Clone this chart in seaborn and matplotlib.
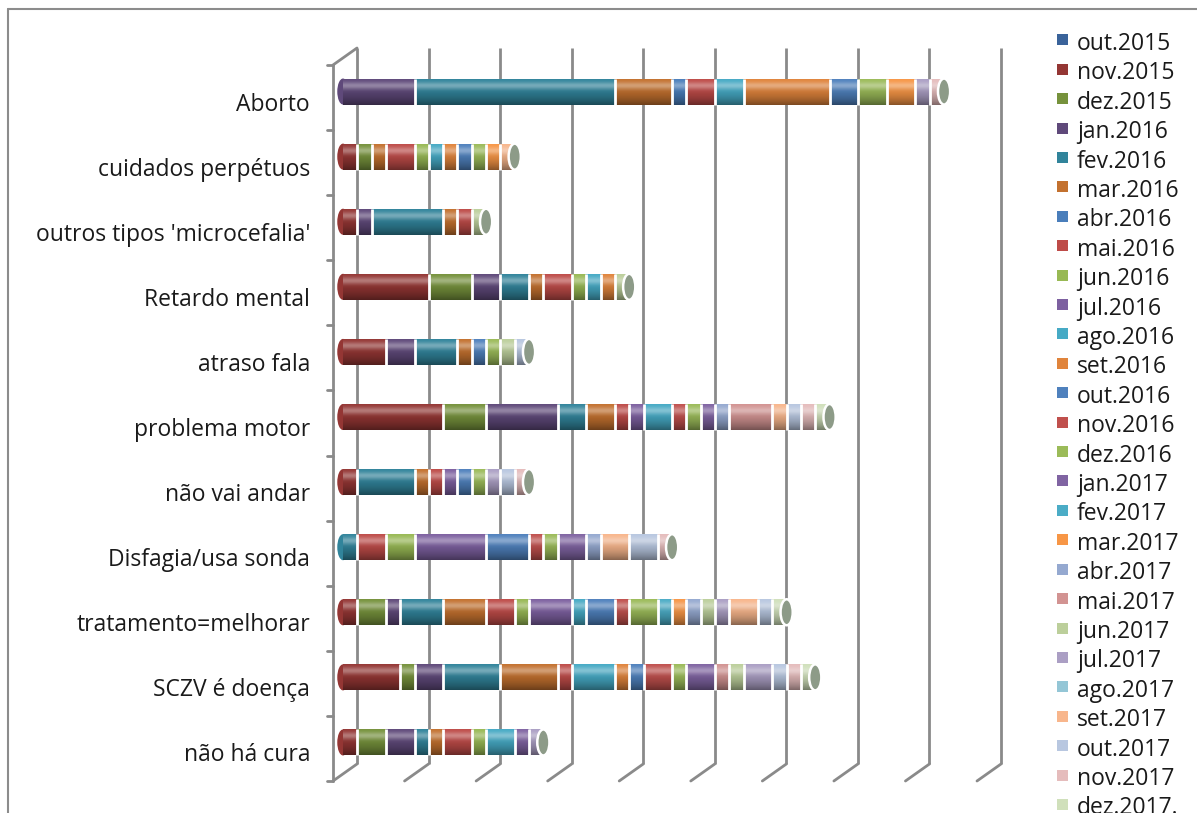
import numpy as np
import pandas as pd
import matplotlib.pyplot as plt
import matplotlib.transforms as mtransforms
from matplotlib.patches import Ellipse, Rectangle
from matplotlib.lines import Line2D
import seaborn as sns

categories = ['Aborto', 'cuidados perpétuos', "outros tipos 'microcefalia'", 'Retardo mental',
              'atraso fala', 'problema motor', 'não vai andar', 'Disfagia/usa sonda',
              'tratamento=melhorar', 'SCZV é doença', 'não há cura']
months = ['out.2015', 'nov.2015', 'dez.2015',
          'jan.2016', 'fev.2016', 'mar.2016', 'abr.2016', 'mai.2016', 'jun.2016',
          'jul.2016', 'ago.2016', 'set.2016', 'out.2016', 'nov.2016', 'dez.2016',
          'jan.2017', 'fev.2017', 'mar.2017', 'abr.2017', 'mai.2017', 'jun.2017',
          'jul.2017', 'ago.2017', 'set.2017', 'out.2017', 'nov.2017', 'dez.2017.']
colors = ['#3a639a', '#943634', '#76923c',
          '#5f497a', '#31849b', '#c3712f', '#4a7ebb', '#be4b48', '#98b954',
          '#7d60a0', '#46aac5', '#e0843c', '#4f81bd', '#c0504d', '#9bbb59',
          '#8064a2', '#4bacc6', '#f79646', '#95a9d0', '#d29392', '#bccf9b',
          '#ab9fc4', '#94c6d6', '#f8b68c', '#b8c7e0', '#e5bcbc', '#d0e0bb']

# values per month (out.2015 ... dez.2017), one list per category
aborto     = [0, 0, 0, 5, 14, 4, 1, 2, 0, 0, 2, 6, 2, 0, 2, 0, 0, 2, 0, 0, 0, 1, 0, 0, 0, 1, 0]
cuidados   = [0, 1, 1, 0, 0, 1, 0, 2, 1, 0, 1, 1, 1, 0, 1, 0, 0, 1, 0, 0, 0, 0, 0, 1, 0, 0, 0]
outros     = [0, 1, 0, 1, 5, 1, 0, 1, 0, 0, 0, 0, 0, 0, 0, 0, 0, 0, 0, 0, 1, 0, 0, 0, 0, 0, 0]
retardo    = [0, 6, 3, 2, 2, 1, 0, 2, 1, 0, 1, 1, 0, 0, 0, 0, 0, 0, 0, 0, 1, 0, 0, 0, 0, 0, 0]
atraso     = [0, 3, 0, 2, 3, 1, 0, 0, 0, 0, 0, 0, 1, 0, 1, 0, 0, 0, 0, 0, 1, 0, 0, 0, 1, 0, 0]
motor      = [0, 7, 3, 5, 2, 2, 0, 1, 0, 1, 2, 0, 0, 1, 1, 1, 0, 0, 1, 3, 0, 0, 0, 1, 1, 1, 1]
nao_andar  = [0, 1, 0, 0, 4, 1, 0, 1, 0, 1, 0, 0, 1, 0, 1, 0, 0, 0, 0, 0, 0, 1, 0, 0, 1, 1, 0]
disfagia   = [0, 0, 0, 0, 1, 0, 0, 2, 2, 5, 0, 0, 3, 1, 1, 2, 0, 0, 1, 0, 0, 0, 0, 2, 2, 1, 0]
tratamento = [0, 1, 2, 1, 3, 3, 0, 2, 1, 3, 1, 0, 2, 1, 2, 0, 1, 1, 1, 0, 1, 1, 0, 2, 1, 0, 1]
sczv       = [0, 4, 1, 2, 4, 4, 0, 1, 0, 0, 3, 1, 1, 2, 1, 2, 0, 0, 0, 1, 1, 2, 0, 0, 1, 1, 1]
nao_cura   = [0, 1, 2, 2, 1, 1, 0, 2, 1, 0, 2, 0, 0, 0, 0, 1, 0, 0, 0, 0, 0, 1, 0, 0, 0, 0, 0]

df = pd.DataFrame([aborto, cuidados, outros, retardo, atraso, motor, nao_andar,
                   disfagia, tratamento, sczv, nao_cura], index=categories, columns=months)
cum = df.cumsum(axis=1)
totals = cum[months[-1]].values

sns.set_theme(style='white')
plt.rcParams['font.family'] = ['Open Sans', 'DejaVu Sans']

W, H = 1197, 813
fig = plt.figure(figsize=(W / 100, H / 100), dpi=100)
# back wall of the pseudo-3d plot, in pixels (left, top, right, bottom)
wl, wt, wr, wb = 357, 48, 1001, 764
ax = fig.add_axes([wl / W, 1 - wb / H, (wr - wl) / W, (wb - wt) / H])

bar_off = ax.transData + mtransforms.ScaledTranslation(-0.14, -0.11, fig.dpi_scale_trans)
front_off = mtransforms.ScaledTranslation(-0.24, -0.17, fig.dpi_scale_trans)

# stacked bars: draw cumulative sums from last month to first
for m, c in zip(months[::-1], colors[::-1]):
    if df[m].sum() == 0:
        continue
    sns.barplot(x=cum[m].values, y=categories, color=c, saturation=1, width=0.4,
                orient='h', errorbar=None, linewidth=0, ax=ax)

for p in ax.patches:
    p.set_transform(bar_off)
    p.set_clip_on(False)
    p.set_zorder(2)

ax.set_xlim(0, 45)
ax.set_ylim(10.5, -0.5)
ax.axis('off')

# cylinder shading
n = 64
t = np.linspace(0, 1, n)
light = np.zeros((n, 1, 4)); light[..., :3] = 1
light[:, 0, 3] = 0.35 * np.exp(-((t - 0.28) / 0.14) ** 2)
dark = np.zeros((n, 1, 4))
dark[:, 0, 3] = 0.45 * t ** 2.2
for i, tot in enumerate(totals):
    for img in (light, dark):
        ax.imshow(img, extent=(0, tot, i + 0.2, i - 0.2), origin='upper', aspect='auto',
                  transform=bar_off, zorder=3, clip_on=False, interpolation='bilinear')
    # rounded back end at the start of the cylinder
    first = colors[int(np.argmax(df.iloc[i].values > 0))]
    ax.add_patch(Ellipse((0, i), 0.8, 0.4, facecolor=first, edgecolor='none',
                         transform=bar_off, zorder=1, clip_on=False))
    # segment separators
    edges = cum.iloc[i].values[(df.iloc[i].values > 0)]
    edges = edges[edges < tot]
    ax.vlines(edges, i - 0.2, i + 0.2, color='white', lw=2, transform=bar_off,
              zorder=4, clip_on=False)
    # end cap
    ax.add_patch(Ellipse((tot, i), 0.85, 0.4, facecolor='#8d9b88', edgecolor='white',
                         lw=1.8, transform=bar_off, zorder=5, clip_on=False))

ax.set_xlim(0, 45)
ax.set_ylim(10.5, -0.5)

# back wall gridlines and floor
grid_col = '#8a8a8a'
grid_x = np.arange(0, 46, 5)
ax.vlines(grid_x, -0.5, 10.5, color=grid_col, lw=2, zorder=0, clip_on=False)
fig.canvas.draw()
ident = mtransforms.IdentityTransform()
for gx in grid_x:
    px, py = ax.transData.transform((gx, 10.5))
    fig.add_artist(Line2D([px, px - 24], [py, py - 17], color=grid_col, lw=2, transform=ident))
# left wall front edge, top slant and ticks
ax.plot([0, 0], [-0.5, 10.5], color=grid_col, lw=2, transform=ax.transData + front_off,
        clip_on=False, zorder=0)
px, py = ax.transData.transform((0, -0.5))
fig.add_artist(Line2D([px, px - 24], [py, py - 17], color=grid_col, lw=2, transform=ident))
for k in range(12):
    px, py = ax.transData.transform((0, k - 0.5))
    fig.add_artist(Line2D([px - 24, px - 30], [py - 17, py - 17], color=grid_col, lw=2,
                          transform=ident))

# category labels
lab_tr = (mtransforms.blended_transform_factory(fig.transFigure, ax.transData)
          + mtransforms.ScaledTranslation(0, -0.30, fig.dpi_scale_trans))
for i, cat in enumerate(categories):
    ax.text(310 / W, i, cat, ha='right', va='baseline', fontsize=16.5, color='#1a1a1a',
            transform=lab_tr)

# legend
for i, (m, c) in enumerate(zip(months, colors)):
    yc = 40 + 29.4 * i
    fig.add_artist(Rectangle((1057 / W, 1 - (yc + 5.5) / H), 11 / W, 11 / H,
                             facecolor=c, edgecolor='none', transform=fig.transFigure))
    fig.text(1077 / W, 1 - (yc + 10) / H, m, ha='left', va='baseline', fontsize=16.5,
             color='#1a1a1a')

# chart frame
fig.add_artist(Line2D([8 / W, 1], [1 - 9 / H, 1 - 9 / H], color='#8c8c8c', lw=1.5,
                      transform=fig.transFigure))
fig.add_artist(Line2D([8 / W, 8 / W], [0, 1 - 9 / H], color='#8c8c8c', lw=1.5,
                      transform=fig.transFigure))

plt.savefig('out.png', dpi=100)
